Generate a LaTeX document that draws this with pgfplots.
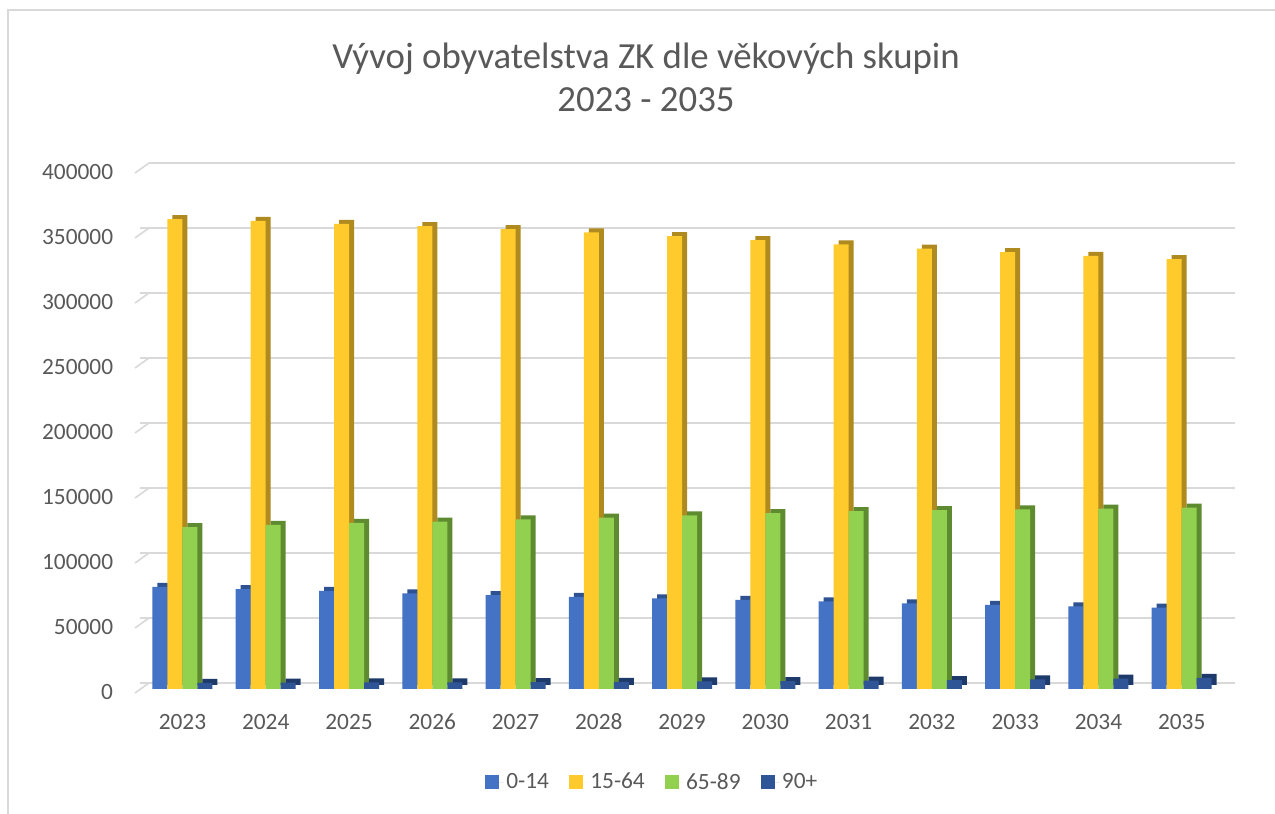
\documentclass[border=0pt]{standalone}
\usepackage{pgfplots}
\pgfplotsset{compat=1.18}
\usepackage{pgfplotstable}
\usepackage{fontspec}
\setmainfont{Carlito}
\definecolor{txt}{HTML}{595959}
\definecolor{gridc}{HTML}{D9D9D9}
\definecolor{cA}{HTML}{4472C4}
\definecolor{cAs}{HTML}{2E5192}
\definecolor{cB}{HTML}{FFCA2C}
\definecolor{cBs}{HTML}{AF8A1E}
\definecolor{cC}{HTML}{92D050}
\definecolor{cCs}{HTML}{5E8B30}
\definecolor{cD}{HTML}{2F5597}
\definecolor{cDs}{HTML}{1E3A6A}
\pgfplotstableread{
x a b c d
0  78500 361500 124600 4800
1  76900 360000 126200 4900
2  75400 357700 127700 5000
3  73500 356100 128700 5100
4  72300 353800 130500 5300
5  70800 351300 131900 5500
6  69700 348300 133600 5800
7  68500 345200 135300 6100
8  67400 342100 136800 6500
9  65800 338700 137500 6900
10 64700 336100 138100 7400
11 63600 333200 138700 7900
12 62600 330600 139500 8500
}\data
\begin{document}
\begin{tikzpicture}
\useasboundingbox (0,0) rectangle (956.25pt,610.5pt);
\fill[white] (0,0) rectangle (956.25pt,610.5pt);
\draw[gridc, line width=1.5pt] (6pt,0) -- (6pt,603pt) -- (956.25pt,603pt);
\begin{axis}[
  name=ax,
  at={(105pt,93.75pt)}, anchor=south west,
  scale only axis, width=821.25pt, height=390pt,
  xmin=-0.51, xmax=12.64, ymin=0, ymax=400000,
  xtick={0,...,12},
  xticklabels={2023,2024,2025,2026,2027,2028,2029,2030,2031,2032,2033,2034,2035},
  ytick={0,50000,...,400000},
  scaled y ticks=false,
  yticklabel style={/pgf/number format/fixed, /pgf/number format/1000 sep={}, /pgf/number format/assume math mode=true},
  yticklabel style={font=\fontsize{17.5}{20}\selectfont, text=txt, inner sep=0pt, anchor=east, xshift=-20pt, yshift=-2pt},
  xticklabel style={font=\fontsize{17.5}{20}\selectfont, text=txt, inner sep=0pt, anchor=base, yshift=-30.4pt},
  axis line style={draw=none},
  major tick length=0pt,
  ymajorgrids,
  major grid style={draw=gridc, line width=1.2pt, yshift=4.5pt, shorten <=6.75pt},
  title={Vývoj obyvatelstva ZK dle věkových skupin\\2023 - 2035},
  title style={align=center, font=\fontsize{27.6}{32.25}\selectfont, text=txt, at={(0.4621,1.161)}, anchor=center},
  legend columns=4,
  legend style={draw=none, fill=none, at={(0.468,-0.179)}, anchor=center, font=\fontsize{17.5}{20}\selectfont, text=txt,
    /tikz/every even column/.append style={column sep=13pt}},
  legend image code/.code={\fill[#1] (0pt,-5.25pt) rectangle (10.5pt,5.25pt); \path (0pt,0pt) -- (14pt,0pt);},
]
\addplot[ybar, bar width=11.25pt, bar shift=-13.125pt, fill=cAs, draw=none, yshift=3pt, forget plot] table[x=x,y=a]{\data};
\addplot[ybar, bar width=11.25pt, bar shift=-16.875pt, fill=cA, draw=none] table[x=x,y=a]{\data};
\addlegendentry{0-14}
\addplot[ybar, bar width=11.25pt, bar shift=-1.875pt, fill=cBs, draw=none, yshift=3pt, forget plot] table[x=x,y=b]{\data};
\addplot[ybar, bar width=11.25pt, bar shift=-5.625pt, fill=cB, draw=none] table[x=x,y=b]{\data};
\addlegendentry{15-64}
\addplot[ybar, bar width=11.25pt, bar shift=9.375pt, fill=cCs, draw=none, yshift=3pt, forget plot] table[x=x,y=c]{\data};
\addplot[ybar, bar width=11.25pt, bar shift=5.625pt, fill=cC, draw=none] table[x=x,y=c]{\data};
\addlegendentry{65-89}
\addplot[ybar, bar width=11.25pt, bar shift=20.625pt, fill=cDs, draw=none, yshift=3pt, forget plot] table[x=x,y=d]{\data};
\addplot[ybar, bar width=11.25pt, bar shift=16.875pt, fill=cD, draw=none] table[x=x,y=d]{\data};
\addlegendentry{90+}
\end{axis}
\foreach \i [evaluate=\i as \y using -3+48.75*\i] in {0,...,8}
  \draw[gridc, line width=1.2pt] ([xshift=-3.75pt, yshift=\y pt]ax.south west) -- ++(10.5pt,7.5pt);
\end{tikzpicture}
\end{document}
